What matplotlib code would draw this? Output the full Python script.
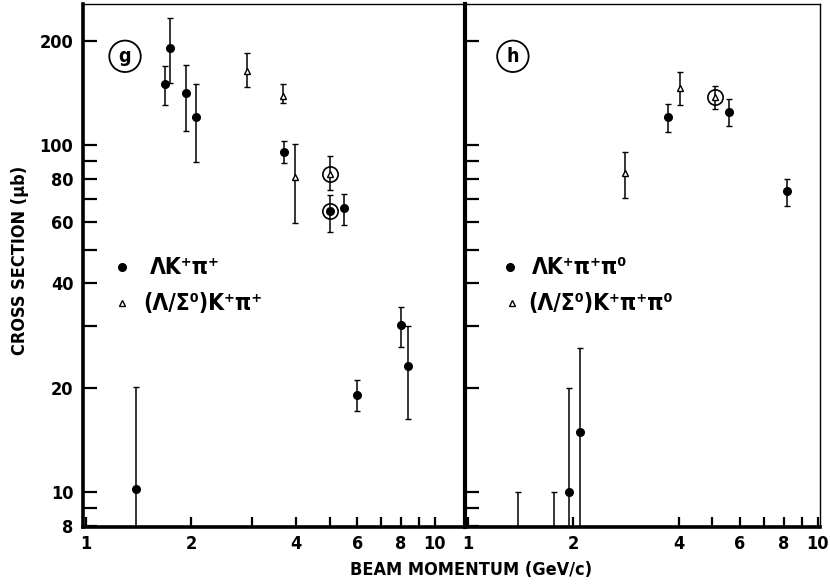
import numpy as np
import matplotlib
matplotlib.use("Agg")
import matplotlib.pyplot as plt
from matplotlib.ticker import FixedLocator, NullLocator, NullFormatter

plt.rcParams['font.family'] = ['DejaVu Sans']
plt.rcParams['font.weight'] = 'bold'
plt.rcParams['font.stretch'] = 'condensed'

# panel g : Lambda K+ pi+
g_fill_x = [1.39, 1.68, 1.74, 1.94, 2.07, 3.70, 5.49, 6.0, 8.0, 8.38]
g_fill_y = [10.2, 150, 190, 141, 120.6, 95.7, 66, 19.1, 30.3, 23.1]
g_fill_hi = [20.1, 169, 232, 170, 150, 102.9, 72.2, 21.1, 34.1, 30.1]
g_fill_lo = [5.0, 130.4, 151, 109.7, 89.5, 88.5, 58.8, 17.1, 26.2, 16.2]

g_tri_x = [2.9, 3.68, 3.98]
g_tri_y = [163.7, 138.7, 81]
g_tri_hi = [184, 149.5, 100.7]
g_tri_lo = [146.7, 131.8, 59.7]

# circled points at 5 GeV/c
g_circ_tri = (5.0, 82.3, 93.1, 74.0)
g_circ_fill = (5.0, 64.7, 72.0, 56.1)

# panel h : Lambda K+ pi+ pi0
h_fill_x = [1.94, 2.09, 3.73, 5.56, 8.17]
h_fill_y = [10.0, 14.9, 120.6, 124.7, 73.7]
h_fill_hi = [19.9, 26.0, 131.2, 135.4, 79.8]
h_fill_lo = [5.0, 5.0, 108.8, 113.7, 66.9]

h_tri_x = [2.81, 4.04]
h_tri_y = [82.9, 146.3]
h_tri_hi = [95.7, 162.6]
h_tri_lo = [70.2, 130.4]

h_circ_tri = (5.09, 137.2, 147.8, 126.7)

h_lim_x = [1.394, 1.757]
h_lim_y = [10.0, 10.0]

yticks = [8, 10, 20, 40, 60, 80, 100, 200]
yminor = [9, 30, 50, 70, 90]


def errbars(ax, x, y, hi, lo, marker, mfc, ms=5.5):
    x = np.asarray(x); y = np.asarray(y)
    yerr = [y - np.asarray(lo), np.asarray(hi) - y]
    ax.errorbar(x, y, yerr=yerr, fmt=marker, color='black', mfc=mfc, mec='black',
                ms=ms, mew=1.0, elinewidth=1.1, capsize=2.5, capthick=1.2)


def setup(ax, xlim, xt, xlabels, ylabels):
    ax.set_xscale('log')
    ax.set_yscale('log')
    ax.set_xlim(*xlim)
    ax.set_ylim(7.93, 255)
    ax.xaxis.set_major_locator(FixedLocator(xt))
    ax.xaxis.set_minor_locator(NullLocator())
    ax.xaxis.set_minor_formatter(NullFormatter())
    ax.set_xticklabels(xlabels)
    ax.yaxis.set_major_locator(FixedLocator(yticks + yminor))
    ax.yaxis.set_minor_locator(NullLocator())
    ax.yaxis.set_minor_formatter(NullFormatter())
    if ylabels:
        ax.set_yticklabels([str(t) for t in yticks] + [''] * len(yminor))
    else:
        ax.set_yticklabels([''] * (len(yticks) + len(yminor)))
    ax.tick_params(axis='y', direction='in', length=10, width=1.6, pad=7,
                   labelsize=13, right=False)
    ax.tick_params(axis='x', direction='in', length=7, width=1.6, pad=6,
                   labelsize=13, top=False)
    ax.spines['left'].set_linewidth(2.6)
    ax.spines['bottom'].set_linewidth(2.6)
    ax.spines['top'].set_linewidth(1.0)
    ax.spines['right'].set_linewidth(1.0)


fig = plt.figure(figsize=(8.3, 5.87), dpi=100)
axg = fig.add_axes([0.1, 0.1022, 0.4602, 0.891])
axh = fig.add_axes([0.5602, 0.1022, 0.4277, 0.891])

# panel g
xt_g = [1, 2, 3, 4, 5, 6, 7, 8, 9, 10]
lab_g = ['1', '2', '', '4', '', '6', '', '8', '', '10']
setup(axg, (0.98, 12.2), xt_g, lab_g, True)
axg.spines['right'].set_visible(False)
errbars(axg, g_fill_x, g_fill_y, g_fill_hi, g_fill_lo, 'o', 'black')
errbars(axg, g_tri_x, g_tri_y, g_tri_hi, g_tri_lo, '^', 'white', ms=5)
errbars(axg, [g_circ_tri[0]], [g_circ_tri[1]], [g_circ_tri[2]], [g_circ_tri[3]], '^', 'white', ms=5)
errbars(axg, [g_circ_fill[0]], [g_circ_fill[1]], [g_circ_fill[2]], [g_circ_fill[3]], 'o', 'black')
axg.plot([g_circ_tri[0], g_circ_fill[0]], [g_circ_tri[1], g_circ_fill[1]], 'o',
         mfc='none', mec='black', ms=11, mew=1.2)

# panel h
xt_h = [1, 2, 4, 5, 6, 7, 8, 9, 10]
lab_h = ['1', '2', '4', '', '6', '', '8', '', '10']
setup(axh, (0.98, 10.15), xt_h, lab_h, False)
axh.spines['left'].set_linewidth(3.0)
errbars(axh, h_fill_x, h_fill_y, h_fill_hi, h_fill_lo, 'o', 'black')
errbars(axh, h_tri_x, h_tri_y, h_tri_hi, h_tri_lo, '^', 'white', ms=5)
errbars(axh, [h_circ_tri[0]], [h_circ_tri[1]], [h_circ_tri[2]], [h_circ_tri[3]], '^', 'white', ms=5)
axh.plot([h_circ_tri[0]], [h_circ_tri[1]], 'o', mfc='none', mec='black', ms=11, mew=1.2)
# upper limits
lim_lo = [5.0] * len(h_lim_x)
errbars(axh, h_lim_x, h_lim_y, h_lim_y, lim_lo, 'none', 'none')

# panel tags
for ax, tag, px in ((axg, 'g', 0.11), (axh, 'h', 0.135)):
    ax.text(px, 0.90, tag, transform=ax.transAxes, ha='center', va='center',
            fontsize=14, fontweight='bold',
            bbox=dict(boxstyle='circle,pad=0.32', fc='white', ec='black', lw=1.3))

# legends
axg.plot([0.102], [0.497], 'o', color='black', ms=5.5, transform=axg.transAxes)
axg.text(0.175, 0.497, 'ΛK⁺π⁺', transform=axg.transAxes, va='center', ha='left',
         fontsize=16.5)
axg.plot([0.102], [0.428], '^', mfc='white', mec='black', ms=4, transform=axg.transAxes)
axg.text(0.157, 0.428, '(Λ/Σ⁰)K⁺π⁺', transform=axg.transAxes, va='center', ha='left',
         fontsize=16.5)

axh.plot([0.127], [0.497], 'o', color='black', ms=5.5, transform=axh.transAxes)
axh.text(0.189, 0.497, 'ΛK⁺π⁺π⁰', transform=axh.transAxes, va='center', ha='left',
         fontsize=16.5)
axh.plot([0.132], [0.428], '^', mfc='white', mec='black', ms=4, transform=axh.transAxes)
axh.text(0.177, 0.428, '(Λ/Σ⁰)K⁺π⁺π⁰', transform=axh.transAxes, va='center', ha='left',
         fontsize=16.5)

fig.text(0.5675, 0.029, 'BEAM MOMENTUM (GeV/c)', ha='center', va='center', fontsize=13)
fig.text(0.024, 0.557, 'CROSS SECTION (μb)', ha='center', va='center', rotation=90,
         fontsize=13)

fig.savefig('out.png', dpi=100)
